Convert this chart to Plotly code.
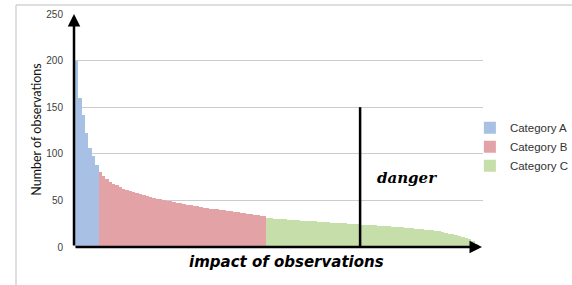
import plotly.graph_objects as go

# ---- data ----
cat_a = [200, 160, 142, 122, 106, 98, 88]
cat_b = [80, 76, 73, 70, 68, 66, 64, 62.5, 61, 60, 59, 58, 57, 56, 55, 54, 53, 52,
         51, 50.3, 49.6, 48.9, 48.2, 47.5, 46.8, 46.2, 45.5, 44.8, 44.1, 43.5, 42.9,
         42.3, 41.8, 41.3, 40.8, 40.3, 39.8, 39.3, 38.8, 38.3, 37.8, 37.3, 36.8, 36.2,
         35.6, 35.0, 34.5, 34.0, 33.4, 32.8]
cat_c = [30.8, 30.6, 30.3, 30.0, 29.8, 29.6, 29.3, 29.1, 28.9, 28.6, 28.4, 28.1, 27.9,
         27.6, 27.4, 27.1, 26.9, 26.6, 26.4, 26.2, 26.0, 25.7, 25.5, 25.3, 25.0, 24.8,
         24.6, 24.3, 24.1, 23.9, 23.7, 23.5, 23.2, 23.0, 22.7, 22.4, 22.1, 21.8, 21.5,
         21.2, 21.0, 20.7, 20.4, 20.1, 19.8, 19.5, 19.0, 18.6, 18.2, 17.8, 17.4, 16.8,
         16.0, 15.2, 14.3, 13.6, 13.0, 12.0, 10.8, 9.6, 8.6, 6.5, 3.5]
series_names = ["Category A", "Category B", "Category C"]
y_ticks = [0, 50, 100, 150, 200, 250]
danger_pos = 84.4      # observation index of the "danger" marker
danger_height = 150

colors = ["#a7c0e3", "#e3a3a6", "#c6dea9"]

fig = go.Figure()
start = 0
for name, vals, col in zip(series_names, [cat_a, cat_b, cat_c], colors):
    xs = list(range(start, start + len(vals)))
    fig.add_trace(go.Bar(x=xs, y=vals, name=name, marker=dict(color=col, line=dict(width=0)),
                         width=1.0))
    start += len(vals)
n_total = start

xmin, xmax = -1.1, n_total + 1.0

fig.update_layout(
    width=572, height=285,
    margin=dict(l=73, r=89, t=14, b=38, autoexpand=False),
    paper_bgcolor="white", plot_bgcolor="white",
    bargap=0, barmode="overlay",
    showlegend=True,
    legend=dict(x=0.968, y=0.43, xanchor="left", yanchor="middle",
                font=dict(family="Liberation Sans", size=11.5, color="#333333"),
                bgcolor="rgba(0,0,0,0)", itemwidth=30, tracegroupgap=0),
    xaxis=dict(range=[xmin, xmax], showgrid=False, showticklabels=False, zeroline=False,
               showline=False, ticks=""),
    yaxis=dict(range=[0, 250], tickvals=y_ticks, showgrid=True, gridcolor="#cccccc",
               gridwidth=1, zeroline=False, showline=False, ticks="",
               ticklabelstandoff=9,
               tickfont=dict(family="Liberation Sans", size=10, color="#404040")),
)

# axis arrows
fig.add_annotation(x=-0.8, y=250, ax=-0.8, ay=0, xref="x", yref="y", axref="x", ayref="y",
                   text="", showarrow=True, arrowhead=2, arrowsize=1, arrowwidth=2.5,
                   arrowcolor="black")
fig.add_annotation(x=xmax - 0.3, y=0, ax=-0.8, ay=0, xref="x", yref="y", axref="x", ayref="y",
                   text="", showarrow=True, arrowhead=2, arrowsize=1, arrowwidth=2.5,
                   arrowcolor="black")
# danger line
fig.add_shape(type="line", x0=danger_pos, x1=danger_pos, y0=0, y1=danger_height,
              xref="x", yref="y", line=dict(color="black", width=2.5))
fig.add_annotation(x=danger_pos + 14, y=74, xref="x", yref="y", text="<b><i>danger</i></b>",
                   showarrow=False, font=dict(family="DejaVu Serif", size=15, color="black"))
# axis titles
fig.add_annotation(x=0.52, y=-0.063, xref="paper", yref="paper",
                   text="<b><i>impact of observations</i></b>", showarrow=False,
                   xanchor="center", yanchor="middle",
                   font=dict(family="DejaVu Sans", size=15, color="black"))
fig.add_annotation(x=-0.088, y=0.503, xref="paper", yref="paper",
                   text="Number of observations", textangle=-90, showarrow=False,
                   xanchor="center", yanchor="middle",
                   font=dict(family="Lato", size=12.5, color="#111111"))

# outer chart frame (top and left edges)
fx0 = (16 - 73) / 410
fy0 = (247.3 - 5) / 233.3
fig.add_shape(type="line", xref="paper", yref="paper", x0=fx0, x1=1.3, y0=fy0, y1=fy0,
              line=dict(color="#bfbfbf", width=1))
fig.add_shape(type="line", xref="paper", yref="paper", x0=fx0, x1=fx0, y0=fy0, y1=-0.2,
              line=dict(color="#bfbfbf", width=1))

fig.write_html("out.html", config={"displayModeBar": False},
               post_script="document.body.style.margin='0';document.body.style.overflow='hidden';")
